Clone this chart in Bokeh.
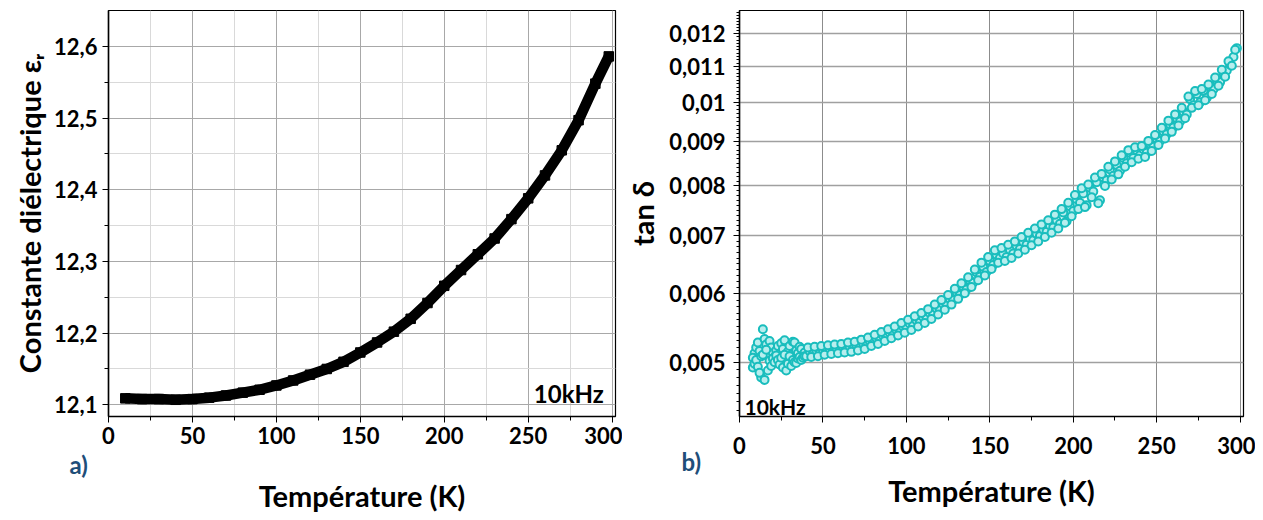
from bokeh.plotting import figure
from bokeh.layouts import row
from bokeh.models import FixedTicker, CustomJSTickFormatter, Label, Range1d, Title, Div
from bokeh.embed import file_html
from bokeh.resources import INLINE

# ---------------- data ----------------
# a) dielectric constant vs temperature (10 kHz)
temp_a = [10, 20, 30, 40, 50, 60, 70, 80, 90, 100,
          110, 120, 130, 140, 150, 160, 170, 180, 190, 200,
          210, 220, 230, 240, 250, 260, 270, 280, 290, 298]
eps_r = [12.109, 12.108, 12.108, 12.107, 12.108, 12.110, 12.113, 12.117, 12.121, 12.127,
         12.134, 12.142, 12.150, 12.160, 12.173, 12.187, 12.202, 12.220, 12.242, 12.266,
         12.288, 12.310, 12.332, 12.359, 12.388, 12.420, 12.455, 12.497, 12.548, 12.586]

# b) loss tangent vs temperature (10 kHz)
temp_low = [8, 9, 10, 11, 12, 13, 14, 15, 16, 17, 18, 19, 20, 21, 22, 23,
            24, 25, 26, 27, 28, 29, 30, 31, 32, 33, 34, 35, 36, 37, 38, 39]
tan_low_1 = [0.00493, 0.00512, 0.00520, 0.00527, 0.00515, 0.00480, 0.00546, 0.00532,
             0.00524, 0.00508, 0.00529, 0.00520, 0.00512, 0.00507, 0.00516, 0.00522,
             0.00511, 0.00526, 0.00518, 0.00530, 0.00505, 0.00514, 0.00522, 0.00510,
             0.00528, 0.00527, 0.00516, 0.00512, 0.00521, 0.00518, 0.00510, 0.00513]
tan_low_2 = [0.00506, 0.00498, 0.00503, 0.00494, 0.00486, 0.00508, 0.00510, 0.00477,
             0.00517, 0.00489, 0.00502, 0.00495, 0.00505, 0.00500, 0.00509, 0.00503,
             0.00497, 0.00506, 0.00493, 0.00510, 0.00489, 0.00498, 0.00508, 0.00495,
             0.00503, 0.00500, 0.00499, 0.00505, 0.00507, 0.00503, 0.00506, 0.00508]

temp_even = [40, 42, 44, 46, 48, 50, 52, 54, 56, 58,
             60, 62, 64, 66, 68, 70, 72, 74, 76, 78,
             80, 82, 84, 86, 88, 90, 92, 94, 96, 98,
             100, 102, 104, 106, 108, 110, 112, 114, 116, 118,
             120, 122, 124, 126, 128, 130, 132, 134, 136, 138,
             140, 142, 144, 146, 148, 150, 152, 154, 156, 158,
             160, 162, 164, 166, 168, 170, 172, 174, 176, 178,
             180, 182, 184, 186, 188, 190, 192, 194, 196, 198,
             200, 202, 204, 206, 208, 210, 212, 214, 216, 218,
             220, 222, 224, 226, 228, 230, 232, 234, 236, 238,
             240, 242, 244, 246, 248, 250, 252, 254, 256, 258,
             260, 262, 264, 266, 268, 270, 272, 274, 276, 278,
             280, 282, 284, 286, 288, 290, 292, 294, 296, 298]
tan_even = [0.00508, 0.00515, 0.00511, 0.00516, 0.00512, 0.00517, 0.00514, 0.00518, 0.00515, 0.00519,
            0.00516, 0.00520, 0.00517, 0.00521, 0.00518, 0.00523, 0.00520, 0.00526, 0.00522, 0.00529,
            0.00527, 0.00533, 0.00530, 0.00537, 0.00534, 0.00541, 0.00538, 0.00545, 0.00542, 0.00550,
            0.00547, 0.00554, 0.00551, 0.00559, 0.00556, 0.00564, 0.00561, 0.00570, 0.00568, 0.00577,
            0.00575, 0.00584, 0.00582, 0.00592, 0.00590, 0.00603, 0.00598, 0.00612, 0.00607, 0.00622,
            0.00618, 0.00635, 0.00628, 0.00645, 0.00636, 0.00655, 0.00648, 0.00666, 0.00660, 0.00668,
            0.00662, 0.00675, 0.00668, 0.00682, 0.00676, 0.00689, 0.00684, 0.00696, 0.00692, 0.00704,
            0.00700, 0.00712, 0.00708, 0.00720, 0.00716, 0.00730, 0.00723, 0.00745, 0.00728, 0.00758,
            0.00748, 0.00772, 0.00765, 0.00784, 0.00760, 0.00796, 0.00788, 0.00808, 0.00770, 0.00818,
            0.00812, 0.00836, 0.00822, 0.00846, 0.00833, 0.00862, 0.00850, 0.00874, 0.00862, 0.00880,
            0.00868, 0.00882, 0.00874, 0.00895, 0.00888, 0.00908, 0.00902, 0.00925, 0.00918, 0.00942,
            0.00935, 0.00958, 0.00950, 0.00975, 0.00968, 0.01008, 0.00992, 0.01022, 0.01000, 0.01030,
            0.01012, 0.01042, 0.01035, 0.01060, 0.01055, 0.01080, 0.01088, 0.01105, 0.01128, 0.01155]

temp_odd = [41, 43, 45, 47, 49, 51, 53, 55, 57, 59,
            61, 63, 65, 67, 69, 71, 73, 75, 77, 79,
            81, 83, 85, 87, 89, 91, 93, 95, 97, 99,
            101, 103, 105, 107, 109, 111, 113, 115, 117, 119,
            121, 123, 125, 127, 129, 131, 133, 135, 137, 139,
            141, 143, 145, 147, 149, 151, 153, 155, 157, 159,
            161, 163, 165, 167, 169, 171, 173, 175, 177, 179,
            181, 183, 185, 187, 189, 191, 193, 195, 197, 199,
            201, 203, 205, 207, 209, 211, 213, 215, 217, 219,
            221, 223, 225, 227, 229, 231, 233, 235, 237, 239,
            241, 243, 245, 247, 249, 251, 253, 255, 257, 259,
            261, 263, 265, 267, 269, 271, 273, 275, 277, 279,
            281, 283, 285, 287, 289, 291, 293, 295, 297]
tan_odd = [0.00520, 0.00507, 0.00521, 0.00508, 0.00522, 0.00510, 0.00523, 0.00511, 0.00524, 0.00512,
           0.00525, 0.00513, 0.00527, 0.00514, 0.00528, 0.00516, 0.00531, 0.00518, 0.00534, 0.00522,
           0.00538, 0.00525, 0.00542, 0.00529, 0.00546, 0.00533, 0.00550, 0.00537, 0.00555, 0.00541,
           0.00560, 0.00545, 0.00565, 0.00550, 0.00570, 0.00555, 0.00576, 0.00561, 0.00583, 0.00568,
           0.00590, 0.00575, 0.00598, 0.00583, 0.00608, 0.00592, 0.00617, 0.00601, 0.00627, 0.00611,
           0.00640, 0.00622, 0.00652, 0.00630, 0.00662, 0.00641, 0.00674, 0.00652, 0.00678, 0.00655,
           0.00684, 0.00660, 0.00690, 0.00668, 0.00698, 0.00675, 0.00706, 0.00683, 0.00714, 0.00690,
           0.00722, 0.00698, 0.00730, 0.00706, 0.00741, 0.00714, 0.00752, 0.00725, 0.00765, 0.00738,
           0.00781, 0.00752, 0.00795, 0.00756, 0.00803, 0.00776, 0.00818, 0.00764, 0.00826, 0.00800,
           0.00842, 0.00814, 0.00854, 0.00825, 0.00868, 0.00842, 0.00880, 0.00852, 0.00887, 0.00860,
           0.00890, 0.00864, 0.00902, 0.00878, 0.00916, 0.00892, 0.00934, 0.00908, 0.00952, 0.00924,
           0.00968, 0.00940, 0.00985, 0.00958, 0.01015, 0.00985, 0.01030, 0.00992, 0.01036, 0.01005,
           0.01048, 0.01022, 0.01068, 0.01045, 0.01090, 0.01070, 0.01115, 0.01102, 0.01150]

x_major = [0, 50, 100, 150, 200, 250, 300]
x_minor = [25, 75, 125, 175, 225, 275]
eps_major = [12.1, 12.2, 12.3, 12.4, 12.5, 12.6]
eps_minor = [12.15, 12.25, 12.35, 12.45, 12.55]
tan_major = [0.005, 0.006, 0.007, 0.008, 0.009, 0.01, 0.011, 0.012]

FONT = "Lato"
BLUE = "#1f4e79"


def style_axis(ax, label, standoff, label_standoff, size="22px", label_size="29px"):
    ax.axis_label = label
    ax.axis_label_text_font = FONT
    ax.axis_label_text_font_style = "bold"
    ax.axis_label_text_font_size = label_size
    ax.axis_label_text_color = "black"
    ax.axis_label_standoff = label_standoff
    ax.major_label_text_font = FONT
    ax.major_label_text_font_style = "bold"
    ax.major_label_text_font_size = size
    ax.major_label_text_color = "black"
    ax.major_label_standoff = standoff
    ax.axis_line_color = "black"
    ax.axis_line_width = 1.5
    ax.major_tick_line_color = "black"
    ax.minor_tick_line_color = "black"
    ax.major_tick_in = 0
    ax.major_tick_out = 6
    ax.minor_tick_in = 0
    ax.minor_tick_out = 4


def title(text, align, offset, standoff, size, color="black"):
    return Title(text=text, align=align, offset=offset, standoff=standoff,
                 text_font=FONT, text_font_style="bold", text_font_size=size, text_color=color)


x_fmt = CustomJSTickFormatter(code="return tick.toFixed(0);")

# ---------------- a) ----------------
p1 = figure(width=622, height=520, output_backend="svg", toolbar_location=None,
            x_range=Range1d(0, 302), y_range=Range1d(12.0837, 12.650),
            min_border_left=108, min_border_right=7, min_border_top=2, min_border_bottom=104)
p1.outline_line_color = "black"
p1.outline_line_width = 1.2
p1.line(temp_a, eps_r, line_color="black", line_width=10.5)
p1.scatter(temp_a, eps_r, marker="square", size=9.5, color="black")

p1.xaxis.ticker = FixedTicker(ticks=x_major, minor_ticks=x_minor)
p1.yaxis.ticker = FixedTicker(ticks=eps_major, minor_ticks=eps_minor)
p1.xaxis.formatter = x_fmt
p1.yaxis.formatter = CustomJSTickFormatter(code="return tick.toFixed(1).replace('.', ',');")
style_axis(p1.xaxis[0], None, 4, 0)
style_axis(p1.yaxis[0], "Constante diélectrique εᵣ", 5, 4)
for g in (p1.xgrid[0], p1.ygrid[0]):
    g.grid_line_color = "#a8a8a8"
    g.grid_line_width = 1
    g.minor_grid_line_color = "#d9d9d9"
    g.minor_grid_line_width = 1
p1.add_layout(title("a)", "left", -39, 3, "24px", BLUE), "below")
p1.add_layout(title("Température (K)", "center", 0, -9, "29px"), "below")

p1.add_layout(Label(x=295, y=12.116, text="10kHz", text_align="right", text_baseline="middle",
                    text_font=FONT, text_font_style="bold", text_font_size="24px", text_color="black"))

# ---------------- b) ----------------
# both frames share top/bottom in a row, so the log range is set to put the
# gridlines where the picture has them
p2 = figure(width=633, height=520, output_backend="svg", toolbar_location=None,
            x_range=Range1d(0, 302), y_range=Range1d(0.0043263, 0.012769), y_axis_type="log",
            min_border_left=114, min_border_right=12, min_border_top=10, min_border_bottom=104)
p2.outline_line_color = "black"
p2.outline_line_width = 1.2
p2.scatter(temp_low + temp_low + temp_even + temp_odd,
           tan_low_1 + tan_low_2 + tan_even + tan_odd, marker="circle", size=8,
           line_color="#19bdbd", fill_color="#b8eeee", line_width=2)

p2.xaxis.ticker = FixedTicker(ticks=x_major, minor_ticks=x_minor)
tan_minor = [round(0.0043 + 0.0001 * i, 4) for i in range(85)]
p2.yaxis.ticker = FixedTicker(ticks=tan_major, minor_ticks=tan_minor)
p2.xaxis.formatter = x_fmt
p2.yaxis.formatter = CustomJSTickFormatter(
    code="return String(parseFloat(tick.toFixed(4))).replace('.', ',');")
style_axis(p2.xaxis[0], None, 14, 0)
style_axis(p2.yaxis[0], "tan δ", 8, 6)
p2.yaxis[0].minor_tick_out = 3
p2.xgrid[0].grid_line_color = "#8c8c8c"
p2.ygrid[0].grid_line_color = "#a0a0a0"
p2.ygrid[0].grid_line_width = 1.5
p2.add_layout(title("b)", "left", -58, -24, "24px", BLUE), "below")
p2.add_layout(title("Température (K)", "center", 0, 15, "29px"), "below")

p2.add_layout(Label(x=3, y=0.004444, text="10kHz", text_align="left", text_baseline="middle",
                    text_font=FONT, text_font_style="bold", text_font_size="21px", text_color="black"))

gap = Div(text="", width=0, height=0, margin=0)
layout = row(p1, gap, p2)
open("out.html", "w").write(file_html(layout, INLINE))
